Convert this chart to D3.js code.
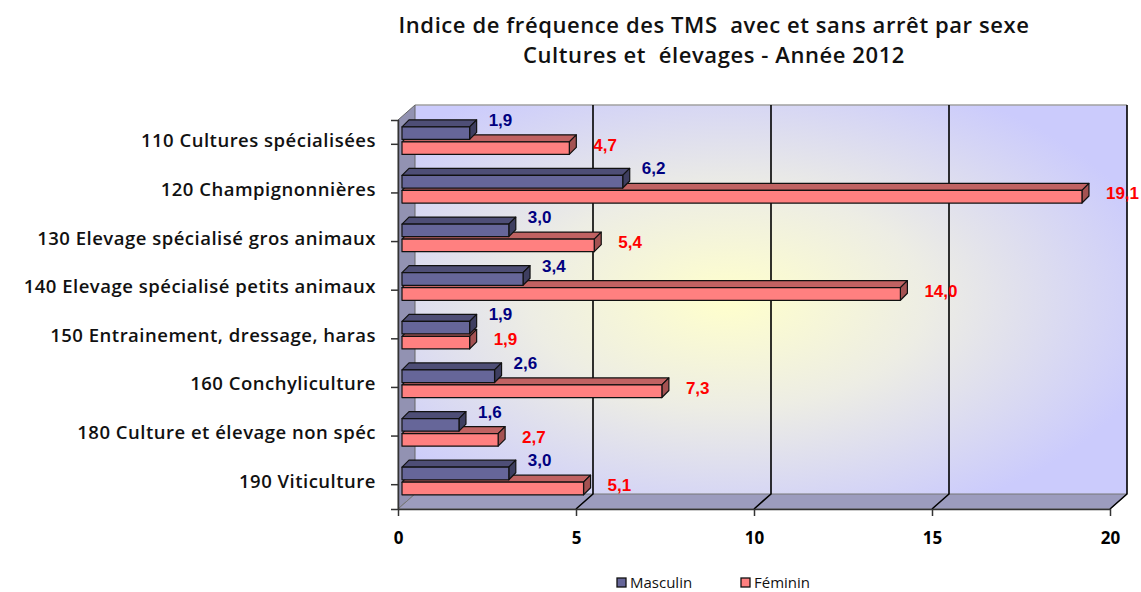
<!DOCTYPE html>
<html>
<head>
<meta charset="utf-8">
<script src="https://cdn.jsdelivr.net/npm/d3@7/dist/d3.min.js"></script>
<style>
  body { margin: 0; background: #fff; }
  text { font-family: "Open Sans", Lato, sans-serif; }
  .val { font-family: "Liberation Sans", Arial, sans-serif; font-weight: bold; font-size: 17px; }
</style>
</head>
<body>
<div id="chart"></div>
<script>
const categories = [
  "110 Cultures spécialisées",
  "120 Champignonnières",
  "130 Elevage spécialisé gros animaux",
  "140 Elevage spécialisé petits animaux",
  "150 Entrainement, dressage, haras",
  "160 Conchyliculture",
  "180 Culture et élevage non spéc",
  "190 Viticulture"
];
const masculin = [1.9, 6.2, 3.0, 3.4, 1.9, 2.6, 1.6, 3.0];
const feminin = [4.7, 19.1, 5.4, 14.0, 1.9, 7.3, 2.7, 5.1];
const xTicks = [0, 5, 10, 15, 20];
const titleLines = [
  "Indice de fréquence des TMS  avec et sans arrêt par sexe",
  "Cultures et  élevages - Année 2012"
];

const W = 1141, H = 592;
const depth = { dx: 17, dy: -15 };   // profondeur du mur du fond
const barOff = { dx: 4, dy: -4.5 };  // position des barres dans la profondeur
const barDepth = 7;                  // épaisseur 3D des barres
const barH = 12.6, barGap = 2.4;

const svg = d3.select("#chart").append("svg")
  .attr("width", W).attr("height", H);

const x = d3.scaleLinear().domain([0, 20]).range([398, 1110]);
const y = d3.scaleBand().domain(categories).range([120, 509]);

const fmt = (v) => d3.format(".1f")(v).replace(".", ",");

// dégradé du mur du fond
const defs = svg.append("defs");
const grad = defs.append("radialGradient").attr("id", "wall")
  .attr("cx", "44%").attr("cy", "50%").attr("r", "62%");
grad.append("stop").attr("offset", "0").attr("stop-color", "#ffffcc");
grad.append("stop").attr("offset", "0.45").attr("stop-color", "#ededE4");
grad.append("stop").attr("offset", "1").attr("stop-color", "#cbcbfc");

const x0 = x(0), x1 = x(20), yTop = y.range()[0], yBot = y.range()[1];

// mur du fond
svg.append("rect")
  .attr("x", x0 + depth.dx).attr("y", yTop + depth.dy)
  .attr("width", x1 - x0).attr("height", yBot - yTop)
  .attr("fill", "url(#wall)");
svg.append("line")
  .attr("x1", x0 + depth.dx).attr("x2", x1 + depth.dx)
  .attr("y1", yTop + depth.dy).attr("y2", yTop + depth.dy)
  .attr("stroke", "#a0a0a0").attr("stroke-width", 1.5);

// mur de gauche
svg.append("polygon")
  .attr("points", [[x0, yTop], [x0 + depth.dx, yTop + depth.dy],
    [x0 + depth.dx, yBot + depth.dy], [x0, yBot]].join(" "))
  .attr("fill", "#9292b2").attr("stroke", "#666").attr("stroke-width", 1);

// sol
svg.append("polygon")
  .attr("points", [[x0, yBot], [x0 + depth.dx, yBot + depth.dy],
    [x1 + depth.dx, yBot + depth.dy], [x1, yBot]].join(" "))
  .attr("fill", "#9c9cbe").attr("stroke", "#777").attr("stroke-width", 1);

// quadrillage vertical
xTicks.filter((t) => t > 0).forEach((t) => {
  svg.append("polyline")
    .attr("points", [[x(t), yBot], [x(t) + depth.dx, yBot + depth.dy],
      [x(t) + depth.dx, yTop + depth.dy]].join(" "))
    .attr("fill", "none").attr("stroke", "#000").attr("stroke-width", 1.6);
});

// axes
svg.append("g")
  .attr("transform", `translate(${x0},0)`)
  .call(d3.axisLeft(y).tickSize(7).tickFormat("").tickSizeOuter(7))
  .call((g) => g.selectAll("line,path").attr("stroke", "#333").attr("stroke-width", 1.5));

svg.append("g")
  .attr("transform", `translate(0,${yBot})`)
  .call(d3.axisBottom(x).tickValues(xTicks).tickSize(7).tickSizeOuter(0)
    .tickFormat(d3.format("d")))
  .call((g) => g.selectAll("line,path").attr("stroke", "#333").attr("stroke-width", 1.5))
  .call((g) => g.selectAll("text")
    .attr("dy", null).attr("y", 35)
    .style("font-family", "'Open Sans', sans-serif")
    .style("font-weight", "bold").style("font-size", "17px").attr("fill", "#000"));

// étiquettes des catégories
svg.append("g").selectAll("text")
  .data(categories).join("text")
  .attr("x", 376)
  .attr("y", (d) => y(d) + y.bandwidth() / 2 - 2)
  .attr("text-anchor", "end")
  .attr("dominant-baseline", "middle")
  .style("font-size", "18.5px").style("font-weight", "600")
  .style("letter-spacing", "0.5px")
  .attr("fill", "#111")
  .text((d) => d);

// barres 3D
const series = [
  { name: "Masculin", values: masculin, row: 0,
    front: "#666699", top: "#4e4e76", side: "#3e3e60", label: "#000080" },
  { name: "Féminin", values: feminin, row: 1,
    front: "#ff8080", top: "#c06262", side: "#a45252", label: "#ff0000" }
];

function barTop(cat, s) {
  return y(cat) + 6.8 + s.row * (barH + barGap);
}

const bars = svg.append("g");
categories.forEach((cat, i) => {
  // féminin d'abord, masculin devant
  [series[1], series[0]].forEach((s) => {
    const v = s.values[i];
    const xl = x0 + barOff.dx, xr = x(v) + barOff.dx;
    const t = barTop(cat, s), b = t + barH;
    const g = bars.append("g")
      .attr("stroke", "#111").attr("stroke-width", 1.2).attr("stroke-linejoin", "round");
    g.append("polygon")
      .attr("points", [[xl, t], [xl + barDepth, t - barDepth],
        [xr + barDepth, t - barDepth], [xr, t]].join(" "))
      .attr("fill", s.top);
    g.append("polygon")
      .attr("points", [[xr, t], [xr + barDepth, t - barDepth],
        [xr + barDepth, b - barDepth], [xr, b]].join(" "))
      .attr("fill", s.side);
    g.append("rect")
      .attr("x", xl).attr("y", t).attr("width", xr - xl).attr("height", barH)
      .attr("fill", s.front);
  });
});

// étiquettes de valeurs
series.forEach((s) => {
  svg.append("g").selectAll("text")
    .data(categories).join("text")
    .attr("class", "val")
    .attr("x", (d, i) => x(s.values[i]) + barOff.dx + (s.row === 0 ? 19 : 24))
    .attr("y", (d) => barTop(d, s) + (s.row === 0 ? -1 : 9))
    .attr("fill", s.label)
    .text((d, i) => fmt(s.values[i]));
});

// titre (espaces doubles conservés)
const title = svg.append("g").selectAll("text")
  .data(titleLines).join("text")
  .attr("x", 714)
  .attr("y", (d, i) => 33 + i * 30)
  .attr("text-anchor", "middle")
  .style("white-space", "pre")
  .style("font-size", "22px").style("font-weight", "600")
  .attr("fill", "#111")
  .text((d) => d);
// ajuste l'espacement pour retrouver la largeur de la ligne 1
const len0 = title.nodes()[0].getComputedTextLength();
const ls = (631 - len0) / titleLines[0].length;
title.style("letter-spacing", `${ls}px`);

// légende
const legend = svg.append("g").attr("transform", "translate(617,578)");
const legX = [0, 124];
series.forEach((s, i) => {
  const lg = legend.append("g").attr("transform", `translate(${legX[i]},0)`);
  lg.append("rect").attr("width", 9).attr("height", 9)
    .attr("fill", s.front).attr("stroke", "#111").attr("stroke-width", 1.3);
  lg.append("text").attr("x", 13).attr("y", 9.5)
    .style("font-size", "15px").attr("fill", "#111").text(s.name);
});
</script>
</body>
</html>
